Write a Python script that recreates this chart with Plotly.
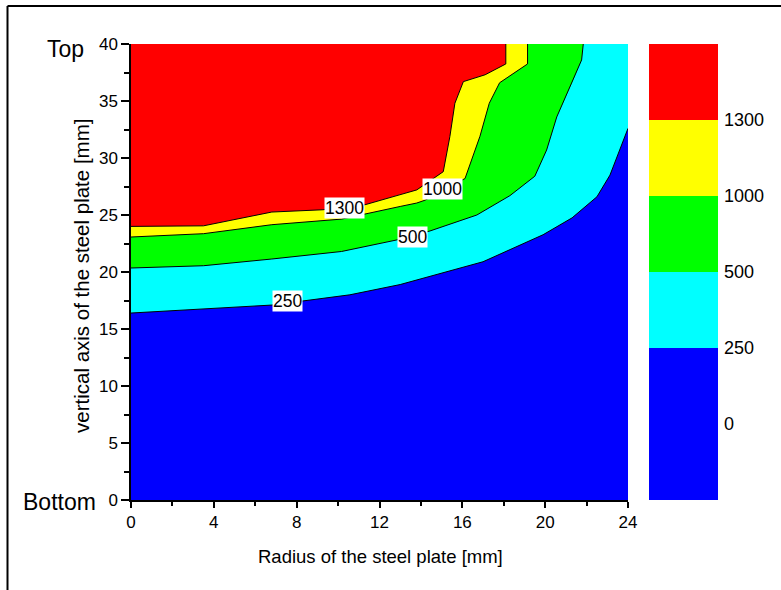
import plotly.graph_objects as go

# ---------------- data ----------------
X_MAX = 24
Y_MAX = 40

# iso-lines (boundaries between filled regions)
l1300_x = [0, 3.5, 6.8, 9.27, 11.3, 13.0, 13.8, 15.08, 15.4, 15.64, 16.05, 17.1, 18.1, 18.1]
l1300_y = [24.0, 24.05, 25.26, 25.46, 25.9, 26.8, 27.2, 28.8, 31.9, 34.8, 36.7, 37.3, 38.25, 40]

l1000_x = [0, 3.5, 6.8, 10.17, 13.0, 13.8, 14.2, 16.13, 16.85, 17.3, 17.8, 19.15, 19.15]
l1000_y = [23.07, 23.36, 24.15, 24.64, 25.75, 26.05, 26.3, 28.2, 31.9, 34.8, 36.6, 38.25, 40]

l500_x = [0, 3.5, 6.8, 10.17, 12.8, 14.44, 16.7, 18.3, 19.5, 20.07, 20.56, 21.36, 21.76, 21.84]
l500_y = [20.35, 20.55, 21.14, 21.8, 22.8, 23.6, 25.0, 26.7, 28.4, 30.7, 33.6, 36.85, 38.6, 40]

l250_x = [0, 3.5, 6.8, 10.57, 13.0, 17.0, 19.9, 21.3, 22.5, 23.13, 23.6, 24]
l250_y = [16.4, 16.75, 17.1, 18.0, 18.9, 20.9, 23.27, 24.75, 26.6, 28.5, 30.7, 32.6]

levels = ["0", "250", "500", "1000", "1300"]
band_colors = ["#0000FF", "#0000FF", "#00FFFF", "#00FF00", "#FFFF00", "#FF0000"]

# contour label positions (data coords)
lab_text = ["1300", "1000", "500", "250"]
lab_x = [10.3, 15.04, 13.6, 7.58]
lab_y = [25.6, 27.3, 23.07, 17.5]

# ---------------- layout geometry (px) ----------------
W, H = 781, 590
L, R, T, B = 131, 63, 44, 90
pw = W - L - R
ph = H - T - B
def px2paper_x(px):
    return (px - L) / pw
def py2paper_y(py):
    return (H - B - py) / ph

fig = go.Figure()

# red top region (>1300): whole plot area
fig.add_trace(go.Scatter(x=[0, X_MAX], y=[Y_MAX, Y_MAX], mode="none", fill="tozeroy",
                         fillcolor=band_colors[5], hoverinfo="skip", showlegend=False))

def ext(xs, ys):
    if ys[-1] >= Y_MAX and xs[-1] < X_MAX:
        return xs + [X_MAX], ys + [Y_MAX]
    return xs, ys

for (xs, ys), col in zip([(l1300_x, l1300_y), (l1000_x, l1000_y), (l500_x, l500_y), (l250_x, l250_y)],
                         [band_colors[4], band_colors[3], band_colors[2], band_colors[1]]):
    ex, ey = ext(xs, ys)
    fig.add_trace(go.Scatter(x=ex, y=ey, mode="none", fill="tozeroy", fillcolor=col,
                             hoverinfo="skip", showlegend=False))

for xs, ys in [(l1300_x, l1300_y), (l1000_x, l1000_y), (l500_x, l500_y), (l250_x, l250_y)]:
    fig.add_trace(go.Scatter(x=xs, y=ys, mode="lines", line=dict(color="black", width=1),
                             hoverinfo="skip", showlegend=False))

# colour scale bar
n = len(band_colors)
cs = []
for i, c in enumerate(band_colors):
    cs.append([i / n, c])
    cs.append([(i + 1) / n, c])
fig.add_trace(go.Heatmap(z=[[i] for i in range(n)], x=[0], y=list(range(n)),
                         zmin=-0.5, zmax=n - 0.5, colorscale=cs, showscale=False,
                         hoverinfo="skip", xaxis="x2", yaxis="y2"))

font_main = "Liberation Sans, Arial, sans-serif"
fig.update_layout(
    width=W, height=H,
    margin=dict(l=L, r=R, t=T, b=B, pad=0),
    paper_bgcolor="white", plot_bgcolor="white",
    font=dict(family=font_main, color="black", size=17),
    xaxis=dict(domain=[0, px2paper_x(628)], range=[0, X_MAX], tickvals=[0, 4, 8, 12, 16, 20, 24],
               ticks="outside", ticklen=6, tickwidth=1.5, tickcolor="black",
               minor=dict(tickvals=[2, 6, 10, 14, 18, 22], ticks="outside", ticklen=4, tickwidth=1.5, tickcolor="black"),
               showline=True, linecolor="black", linewidth=1.5, showgrid=False, zeroline=False,
               tickfont=dict(size=17), fixedrange=True),
    yaxis=dict(range=[0, Y_MAX], tickvals=[0, 5, 10, 15, 20, 25, 30, 35, 40],
               ticks="outside", ticklen=8, tickwidth=1.5, tickcolor="black",
               minor=dict(tickvals=[2.5, 7.5, 12.5, 17.5, 22.5, 27.5, 32.5, 37.5], ticks="outside", ticklen=5, tickwidth=1.5, tickcolor="black"),
               showline=True, linecolor="black", linewidth=1.5, showgrid=False, zeroline=False,
               tickfont=dict(size=17), fixedrange=True),
    xaxis2=dict(domain=[px2paper_x(649), 1], anchor="y2", range=[-0.5, 0.5], visible=False, fixedrange=True),
    yaxis2=dict(anchor="x2", side="right", range=[-0.5, n - 0.5], tickvals=[0.5, 1.5, 2.5, 3.5, 4.5],
                ticktext=levels, ticks="", showline=False, showgrid=False, zeroline=False,
                ticklabelstandoff=5, tickfont=dict(size=18), fixedrange=True),
)

annotations = []
for t, x, y in zip(lab_text, lab_x, lab_y):
    annotations.append(dict(x=x, y=y, xref="x", yref="y", text=t, showarrow=False,
                            bgcolor="white", borderpad=0, font=dict(size=17.5)))
annotations.append(dict(x=px2paper_x(86), y=Y_MAX, xref="paper", yref="y", text="Top", showarrow=False,
                        xanchor="right", yanchor="middle", yshift=-5, font=dict(size=23)))
annotations.append(dict(x=px2paper_x(98), y=0, xref="paper", yref="y", text="Bottom", showarrow=False,
                        xanchor="right", yanchor="middle", yshift=-2, font=dict(size=23)))
annotations.append(dict(x=px2paper_x(380), y=py2paper_y(556), xref="paper", yref="paper",
                        text="Radius of the steel plate [mm]", showarrow=False,
                        xanchor="center", yanchor="middle", font=dict(size=18.5)))
annotations.append(dict(x=px2paper_x(81), y=py2paper_y(276), xref="paper", yref="paper",
                        text="vertical axis of the steel plate [mm]", showarrow=False, textangle=-90,
                        xanchor="center", yanchor="middle", font=dict(size=20.5)))
fig.update_layout(annotations=annotations)

# outer frame (top and left edges visible)
fig.add_shape(type="line", xref="paper", yref="paper", x0=px2paper_x(7.5), x1=px2paper_x(790),
              y0=py2paper_y(6), y1=py2paper_y(6), line=dict(color="black", width=2))
fig.add_shape(type="line", xref="paper", yref="paper", x0=px2paper_x(7.5), x1=px2paper_x(7.5),
              y0=py2paper_y(6), y1=py2paper_y(600), line=dict(color="black", width=2))

fig.write_html("out.html", config={"displayModeBar": False},
               post_script="document.body.style.margin='0';document.body.style.overflow='hidden';")
